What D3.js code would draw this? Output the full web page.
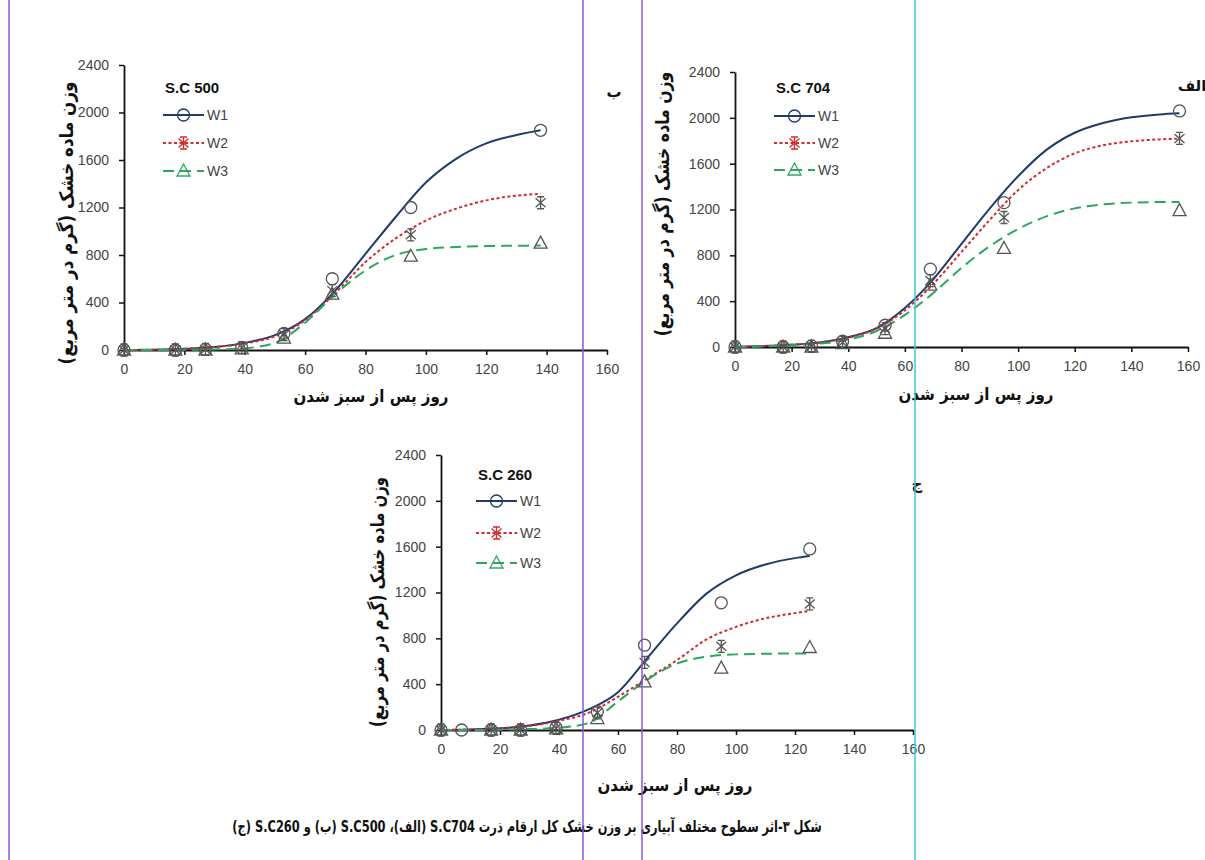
<!DOCTYPE html>
<html><head><meta charset="utf-8">
<script src="https://cdn.jsdelivr.net/npm/d3@7"></script>
<style>
html,body{margin:0;padding:0;background:#fff;}
svg{display:block;}
</style></head>
<body>
<svg id="chart" width="1205" height="860"></svg>
<script>
// ---------------- DATA ----------------
const xTickValues = [0,20,40,60,80,100,120,140,160];
const yTickValues = [0,400,800,1200,1600,2000,2400];
const seriesNames = ["W1","W2","W3"];
const panelTitles = ["S.C 500","S.C 704","S.C 260"];
const panelLetters = ["ب","الف","ج"];
const xAxisTitle = "روز پس از سبز شدن";
const yAxisTitle = "وزن ماده خشک (گرم در متر مربع)";
const captionText = "شکل ۳-اثر سطوح مختلف آبیاری بر وزن خشک کل ارقام ذرت S.C704 (الف)، S.C500 (ب) و S.C260 (ج)";

// S.C 500 (ب) observed points
const sc500Days = [0,17,27,39,53,69,95,138];
const sc500W1 = [0,0,5,20,140,600,1200,1850];
const sc500W2 = [0,0,5,20,130,500,970,1240];
const sc500W3 = [0,0,0,10,100,470,790,900];
// S.C 500 fitted curves
const sc500FitDays = [0,10,20,30,40,50,60,70,80,90,100,110,120,130,138];
const sc500FitW1 = [0,3,10,25,60,125,260,500,810,1120,1410,1610,1740,1810,1850];
const sc500FitW2 = [0,3,10,25,55,115,250,480,740,940,1090,1190,1260,1300,1315];
const sc500FitW3 = [0,0,2,5,15,60,230,470,670,800,850,868,875,878,880];

// S.C 704 (الف)
const sc704Days = [0,17,27,38,53,69,95,157];
const sc704W1 = [0,0,10,50,190,680,1260,2060];
const sc704W2 = [0,0,5,40,160,580,1130,1820];
const sc704W3 = [0,0,0,30,120,540,860,1190];
const sc704FitDays = [0,10,20,30,40,50,60,70,80,90,100,110,120,130,140,150,157];
const sc704FitW1 = [0,8,20,40,85,165,340,590,900,1210,1490,1720,1870,1955,2005,2030,2040];
const sc704FitW2 = [0,8,20,40,80,160,320,550,830,1110,1370,1560,1690,1760,1795,1812,1818];
const sc704FitW3 = [0,5,15,30,65,140,280,470,690,880,1030,1140,1210,1245,1260,1265,1265];

// S.C 260 (ج)
const sc260DaysW1 = [0,7,17,27,39,53,69,95,125];
const sc260W1 = [0,0,0,0,20,160,740,1110,1580];
const sc260Days = [0,17,27,39,53,69,95,125];
const sc260W2 = [0,0,0,15,150,590,730,1100];
const sc260W3 = [0,0,0,10,100,420,540,720];
const sc260FitDays = [0,10,20,30,40,50,60,70,80,90,100,110,120,125];
const sc260FitW1 = [0,5,15,40,90,180,330,630,930,1190,1350,1445,1500,1518];
const sc260FitW2 = [0,5,15,35,80,150,290,450,610,790,900,975,1020,1040];
const sc260FitW3 = [0,0,3,8,20,60,250,440,580,640,660,665,668,668];

// ---------------- STYLE / LAYOUT ----------------
const colors = {W1:"#1f3a6e", W2:"#d42a2e", W3:"#2ea75e"};
const dashes = {W1:null, W2:"3,2.5", W3:"11,6"};
const markerStroke = "#555";
const tickFont = "'Liberation Sans', Arial, sans-serif";
const faFont = "'DejaVu Sans', sans-serif";

const panels = [
  {title:panelTitles[0], letter:panelLetters[0],
   obs:[{name:"W1",d:sc500Days,v:sc500W1},{name:"W2",d:sc500Days,v:sc500W2},{name:"W3",d:sc500Days,v:sc500W3}],
   fit:[{name:"W1",d:sc500FitDays,v:sc500FitW1},{name:"W2",d:sc500FitDays,v:sc500FitW2},{name:"W3",d:sc500FitDays,v:sc500FitW3}],
   L:{x0:124,x1:607,y0:350,y1:65, legX:163, legTitleY:93, legRows:[115,143,171],
      xt:[371,396], yt:[66,223,283], letter:[614,92]}},
  {title:panelTitles[1], letter:panelLetters[1],
   obs:[{name:"W1",d:sc704Days,v:sc704W1},{name:"W2",d:sc704Days,v:sc704W2},{name:"W3",d:sc704Days,v:sc704W3}],
   fit:[{name:"W1",d:sc704FitDays,v:sc704FitW1},{name:"W2",d:sc704FitDays,v:sc704FitW2},{name:"W3",d:sc704FitDays,v:sc704FitW3}],
   L:{x0:735,x1:1188,y0:347,y1:72, legX:774, legTitleY:93, legRows:[116,143,170],
      xt:[976,394], yt:[662,204,265], letter:[1192,86]}},
  {title:panelTitles[2], letter:panelLetters[2],
   obs:[{name:"W1",d:sc260DaysW1,v:sc260W1},{name:"W2",d:sc260Days,v:sc260W2},{name:"W3",d:sc260Days,v:sc260W3}],
   fit:[{name:"W1",d:sc260FitDays,v:sc260FitW1},{name:"W2",d:sc260FitDays,v:sc260FitW2},{name:"W3",d:sc260FitDays,v:sc260FitW3}],
   L:{x0:441,x1:913,y0:730,y1:455, legX:476, legTitleY:480, legRows:[501,533,563],
      xt:[675,785], yt:[377,602,250], letter:[917,484]}}
];

const svg = d3.select("#chart");
svg.append("rect").attr("width",1205).attr("height",860).attr("fill","#fff");

function markerPath(name, g, cx, cy, stroke){
  if(name==="W1"){
    g.append("circle").attr("cx",cx).attr("cy",cy).attr("r",6)
      .attr("fill","none").attr("stroke",stroke).attr("stroke-width",1.3);
  } else if(name==="W2"){
    const s=6;
    g.append("path").attr("d",`M${cx},${cy-s}L${cx},${cy+s}M${cx-5},${cy-4.5}L${cx+5},${cy+4.5}M${cx-5},${cy+4.5}L${cx+5},${cy-4.5}M${cx-3.5},${cy-s}L${cx+3.5},${cy-s}M${cx-3.5},${cy+s}L${cx+3.5},${cy+s}`)
      .attr("fill","none").attr("stroke",stroke).attr("stroke-width",1.3);
  } else {
    g.append("path").attr("d",`M${cx},${cy-7}L${cx+6.5},${cy+5}L${cx-6.5},${cy+5}Z`)
      .attr("fill","none").attr("stroke",stroke).attr("stroke-width",1.3);
  }
}

// place text centred at (cx,cy), stretched along its run to the target length
function fitText(sel, cx, cy, target, rotate){
  const len = sel.node().getComputedTextLength();
  const s = len>0 ? target/len : 1;
  sel.attr("x",0).attr("y",0).attr("text-anchor","middle").attr("dy","0.35em")
     .attr("transform",`translate(${cx},${cy})${rotate?" rotate(-90)":""} scale(${s},1)`);
}

panels.forEach(p=>{
  const L=p.L;
  const x = d3.scaleLinear().domain([0,160]).range([L.x0,L.x1]);
  const y = d3.scaleLinear().domain([0,2400]).range([L.y0,L.y1]);
  const g = svg.append("g");

  // axes
  const xAxis = d3.axisBottom(x).tickValues(xTickValues).tickFormat(d3.format("d")).tickSize(5).tickPadding(9).tickSizeOuter(0);
  const yAxis = d3.axisLeft(y).tickValues(yTickValues).tickFormat(d3.format("d")).tickSize(5).tickPadding(10).tickSizeOuter(0);
  const gx = g.append("g").attr("transform",`translate(0,${L.y0})`).call(xAxis);
  const gy = g.append("g").attr("transform",`translate(${L.x0},0)`).call(yAxis);
  [gx,gy].forEach(a=>{
    a.selectAll("path.domain").attr("stroke","#111").attr("stroke-width",1.8);
    a.selectAll(".tick line").attr("stroke","#111").attr("stroke-width",1.5);
    a.selectAll(".tick text").attr("fill","#444").attr("font-family",tickFont).attr("font-size",14);
  });

  // fitted curves
  const line = d3.line().x(d=>x(d[0])).y(d=>y(d[1])).curve(d3.curveMonotoneX);
  p.fit.forEach(s=>{
    const pts = s.d.map((d,i)=>[d,s.v[i]]);
    g.append("path").attr("d",line(pts)).attr("fill","none")
      .attr("stroke",colors[s.name]).attr("stroke-width",2)
      .attr("stroke-dasharray",dashes[s.name]);
  });
  // observed markers
  p.obs.forEach(s=>{
    s.d.forEach((d,i)=>markerPath(s.name,g,x(d),y(s.v[i]),markerStroke));
  });

  // legend
  g.append("text").attr("x",L.legX+2).attr("y",L.legTitleY).text(p.title)
    .attr("font-family",tickFont).attr("font-weight","bold").attr("font-size",15).attr("fill","#111");
  seriesNames.forEach((n,i)=>{
    const yy=L.legRows[i];
    g.append("line").attr("x1",L.legX).attr("x2",L.legX+41).attr("y1",yy).attr("y2",yy)
      .attr("stroke",colors[n]).attr("stroke-width",2).attr("stroke-dasharray",dashes[n]);
    markerPath(n,g,L.legX+20.5,yy,colors[n]);
    g.append("text").attr("x",L.legX+44).attr("y",yy+5).text(n)
      .attr("font-family",tickFont).attr("font-size",14).attr("fill","#444");
  });

  // axis titles
  const xt = g.append("text").attr("font-family",faFont).attr("font-weight","bold")
    .attr("font-size",17).attr("fill","#111").text(xAxisTitle);
  fitText(xt, L.xt[0], L.xt[1], 155, false);
  const yt = g.append("text").attr("font-family",faFont).attr("font-weight","bold")
    .attr("font-size",19).attr("fill","#111").text(yAxisTitle);
  fitText(yt, L.yt[0], L.yt[1], L.yt[2], true);

  // panel letter
  g.append("text").attr("x",L.letter[0]).attr("y",L.letter[1]).attr("dy","0.35em")
    .attr("text-anchor","middle")
    .attr("font-family",faFont).attr("font-weight","bold").attr("font-size",15).attr("fill","#111")
    .text(p.letter);
});

// caption
const cap = svg.append("text").attr("direction","rtl")
  .attr("font-family","'DejaVu Sans',serif").attr("font-weight","bold").attr("font-size",16)
  .attr("fill","#111").text(captionText);
fitText(cap, 527, 826, 590, false);

// page guide lines visible in the picture
const guides = [{x:9,c:"#8559d6"},{x:583,c:"#8559d6"},{x:642,c:"#8559d6"},{x:915,c:"#3cc6d6"}];
svg.selectAll("line.guide").data(guides).join("line").attr("class","guide")
  .attr("x1",d=>d.x).attr("x2",d=>d.x).attr("y1",0).attr("y2",860)
  .attr("stroke",d=>d.c).attr("stroke-width",1.5);
</script>
</body></html>
